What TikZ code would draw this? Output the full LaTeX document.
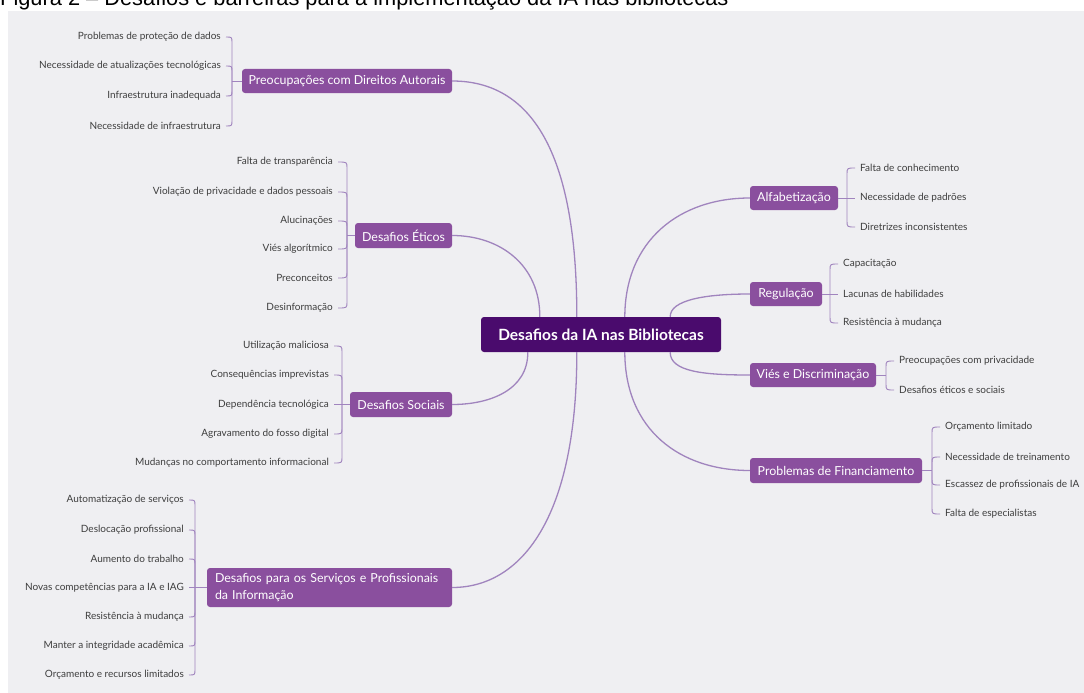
\documentclass[tikz,border=0pt]{standalone}
\usepackage{fontspec}
\setmainfont{Lato}
\newfontfamily\titlefont{Liberation Sans}
\usetikzlibrary{calc}
\definecolor{bgc}{HTML}{EFEFF2}
\definecolor{boxc}{HTML}{8A4F9E}
\definecolor{centc}{HTML}{4A0B6D}
\definecolor{linec}{HTML}{A084BE}
\definecolor{leaftxt}{HTML}{3E3E3E}
\newcommand\brL[2]{\draw[lline] (#1) -- ($(#1|-#2.east)!6pt!(#1)$) .. controls (#1|-#2.east) .. (#2.east);}
\newcommand\brR[2]{\draw[lline] (#1) -- ($(#1|-#2.west)!6pt!(#1)$) .. controls (#1|-#2.west) .. (#2.west);}
\begin{document}
\begin{tikzpicture}[x=1pt,y=-1pt,
  box/.style={fill=boxc, rounded corners=3pt, text=white, font=\fontsize{12.4}{14}\selectfont, inner sep=0pt, minimum height=24pt},
  lfL/.style={anchor=east, text=leaftxt, font=\fontsize{10}{12}\selectfont, inner xsep=5pt, inner ysep=1pt},
  lfR/.style={lfL, anchor=west},
  main/.style={draw=linec, line width=1.3pt},
  lline/.style={draw=linec, line width=0.9pt},
]
\useasboundingbox (0,0) rectangle (1084,693);
\fill[bgc] (8,11) rectangle (1084,693);
\node[anchor=base west, inner sep=0pt, font=\titlefont\fontsize{21.8}{24}\selectfont] (title) at (0,5.5) {Figura 2 – Desafios e barreiras para a implementação da IA nas bibliotecas};

% central
\node[fill=centc, rounded corners=3pt, text=white, font=\bfseries\fontsize{15.5}{17}\selectfont, minimum width=240pt, minimum height=35pt, inner sep=0pt] (C) at (601,334.5) {Desafios da IA nas Bibliotecas};

% main topics
\node[box, minimum width=210pt] (A) at (347,81) {Preocupações com Direitos Autorais};
\node[box, minimum width=97pt, minimum height=25pt] (B) at (403.5,235.5) {Desafios Éticos};
\node[box, minimum width=102pt, minimum height=25pt] (S) at (401,404.5) {Desafios Sociais};
\node[box, minimum width=245pt, minimum height=39pt, align=left, text width=229pt, font=\fontsize{12.4}{17}\selectfont] (D) at (329.5,587.5) {Desafios para os Serviços e Profissionais\\da Informação};
\node[box, minimum width=88pt] (E) at (794,198) {Alfabetização};
\node[box, minimum width=72pt] (F) at (786,294) {Regulação};
\node[box, minimum width=126pt] (G) at (813,375) {Viés e Discriminação};
\node[box, minimum width=172pt, minimum height=25pt] (H) at (836,470.5) {Problemas de Financiamento};

% main connectors
\draw[main] ($(C.north west)+(96,0)$) .. controls (577,150) and (530,81) .. (A.east);
\draw[main] ($(C.north west)+(59,0)$) .. controls (540,265) and (500,235.5) .. (B.east);
\draw[main] ($(C.south west)+(47,0)$) .. controls (528,390) and (490,404.5) .. (S.east);
\draw[main] ($(C.south west)+(96,0)$) .. controls (577,520) and (520,587.5) .. (D.east);
\draw[main] ($(C.north west)+(144,0)$) .. controls (625,240) and (680,198) .. (E.west);
\draw[main] ($(C.north east)+(-51,0)$) .. controls (670,300) and (705,294) .. (F.west);
\draw[main] ($(C.south east)+(-51,0)$) .. controls (670,372) and (705,375) .. (G.west);
\draw[main] ($(C.south west)+(144,0)$) .. controls (625,430) and (680,470.5) .. (H.west);

% group A
\coordinate (jA) at (232,81);
\draw[lline] (A.west) -- (jA);
\node[lfL] (a1) at (226,37) {Problemas de proteção de dados};
\node[lfL] (a2) at (226,66) {Necessidade de atualizações tecnológicas};
\node[lfL] (a3) at (226,96) {Infraestrutura inadequada};
\node[lfL] (a4) at (226,126) {Necessidade de infraestrutura};
\brL{jA}{a1}\brL{jA}{a2}\brL{jA}{a3}\brL{jA}{a4}

% group B
\coordinate (jB) at (347,235.5);
\draw[lline] (B.west) -- (jB);
\node[lfL] (b1) at (338,162) {Falta de transparência};
\node[lfL] (b2) at (338,192) {Violação de privacidade e dados pessoais};
\node[lfL] (b3) at (338,221) {Alucinações};
\node[lfL] (b4) at (338,249) {Viés algorítmico};
\node[lfL] (b5) at (338,278) {Preconceitos};
\node[lfL] (b6) at (338,308) {Desinformação};
\brL{jB}{b1}\brL{jB}{b2}\brL{jB}{b3}\brL{jB}{b4}\brL{jB}{b5}\brL{jB}{b6}

% group S
\coordinate (jS) at (342,404.5);
\draw[lline] (S.west) -- (jS);
\node[lfL] (s1) at (334,346) {Utilização maliciosa};
\node[lfL] (s2) at (334,375) {Consequências imprevistas};
\node[lfL] (s3) at (334,404.5) {Dependência tecnológica};
\node[lfL] (s4) at (334,434) {Agravamento do fosso digital};
\node[lfL] (s5) at (334,463) {Mudanças no comportamento informacional};
\brL{jS}{s1}\brL{jS}{s2}\brL{jS}{s4}\brL{jS}{s5}
\draw[lline] (jS) -- (s3.east);

% group D
\coordinate (jD) at (195,587.5);
\draw[lline] (D.west) -- (jD);
\node[lfL] (d1) at (189,500) {Automatização de serviços};
\node[lfL] (d2) at (189,530) {Deslocação profissional};
\node[lfL] (d3) at (189,559) {Aumento do trabalho};
\node[lfL] (d4) at (189,587.5) {Novas competências para a IA e IAG};
\node[lfL] (d5) at (189,617) {Resistência à mudança};
\node[lfL] (d6) at (189,646) {Manter a integridade acadêmica};
\node[lfL] (d7) at (189,675) {Orçamento e recursos limitados};
\brL{jD}{d1}\brL{jD}{d2}\brL{jD}{d3}\brL{jD}{d5}\brL{jD}{d6}\brL{jD}{d7}
\draw[lline] (jD) -- (d4.east);

% group E
\coordinate (jE) at (847,198);
\draw[lline] (E.east) -- (jE);
\node[lfR] (e1) at (855,168) {Falta de conhecimento};
\node[lfR] (e2) at (855,198) {Necessidade de padrões};
\node[lfR] (e3) at (855,227) {Diretrizes inconsistentes};
\brR{jE}{e1}\brR{jE}{e3}
\draw[lline] (jE) -- (e2.west);

% group F
\coordinate (jF) at (830,294);
\draw[lline] (F.east) -- (jF);
\node[lfR] (f1) at (838,264) {Capacitação};
\node[lfR] (f2) at (838,294) {Lacunas de habilidades};
\node[lfR] (f3) at (838,323) {Resistência à mudança};
\brR{jF}{f1}\brR{jF}{f3}
\draw[lline] (jF) -- (f2.west);

% group G
\coordinate (jG) at (886,375);
\draw[lline] (G.east) -- (jG);
\node[lfR] (g1) at (894,361) {Preocupações com privacidade};
\node[lfR] (g2) at (894,390) {Desafios éticos e sociais};
\brR{jG}{g1}\brR{jG}{g2}

% group H
\coordinate (jH) at (932,470.5);
\draw[lline] (H.east) -- (jH);
\node[lfR] (h1) at (940,427) {Orçamento limitado};
\node[lfR] (h2) at (940,457) {Necessidade de treinamento};
\node[lfR] (h3) at (940,485) {Escassez de profissionais de IA};
\node[lfR] (h4) at (940,514) {Falta de especialistas};
\brR{jH}{h1}\brR{jH}{h2}\brR{jH}{h3}\brR{jH}{h4}
\end{tikzpicture}
\end{document}
